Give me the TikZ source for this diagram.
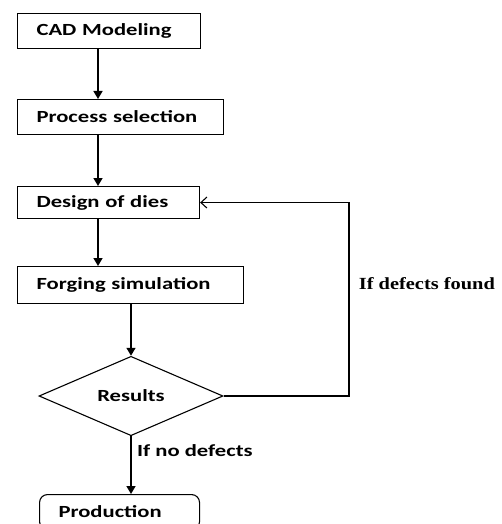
\documentclass[tikz,border=0pt]{standalone}
\usepackage{fontspec}
\setmainfont{Carlito}[FakeStretch=1.33]
\newfontfamily\notefont{Liberation Serif}[FakeStretch=1.2]
\usetikzlibrary{shapes.geometric,arrows.meta}

\begin{document}
\begin{tikzpicture}[x=1pt,y=-1pt,->,>={Triangle[length=8pt,width=9pt]},line width=1.6pt,
  every node/.style={font=\fontsize{17}{20}\selectfont\bfseries},
  box/.style={draw,line width=1.1pt,anchor=north west,align=left,inner xsep=19pt,minimum height=35pt},
  decision/.style={diamond,draw,line width=1.1pt,inner sep=0pt,minimum width=184pt,minimum height=74pt},
  back/.style={-{Straight Barb[length=6pt,width=11pt]},line width=1.1pt}]
  \useasboundingbox (0,0) rectangle (502,524);
  \clip (0,0) rectangle (502,524);

  \node[box,text width=145pt] (cad) at (17,13) {CAD Modeling};
  \node[box,text width=168pt] (proc) at (17,99) {Process selection};
  \node[box,text width=144pt,minimum height=32pt] (dies) at (17,186) {Design of dies};
  \node[box,text width=188pt,minimum height=37pt] (forge) at (17,266) {Forging simulation};
  \node[decision] (res) at (131,396) {Results};
  \node[box,text width=122pt,rounded corners=8pt] (prod) at (39,494) {Production};
  \coordinate (spine) at (98,0);
  \coordinate (loop) at (349,0);

  \draw (cad.south -| spine) -- (proc.north -| spine);
  \draw (proc.south -| spine) -- (dies.north -| spine);
  \draw (dies.south -| spine) -- (forge.north -| spine);
  \draw (forge.south -| res.north) -- (res.north);
  \draw (res.south) -- node[pos=0.25,anchor=west,xshift=2pt] {If no defects} (res.south |- prod.north);
  \draw[back] (res.east) -| node[pos=0.79,anchor=west,xshift=6pt,font=\fontsize{17}{20}\notefont\bfseries] {If defects found} (loop |- dies.east) -- (dies.east);
\end{tikzpicture}
\end{document}
